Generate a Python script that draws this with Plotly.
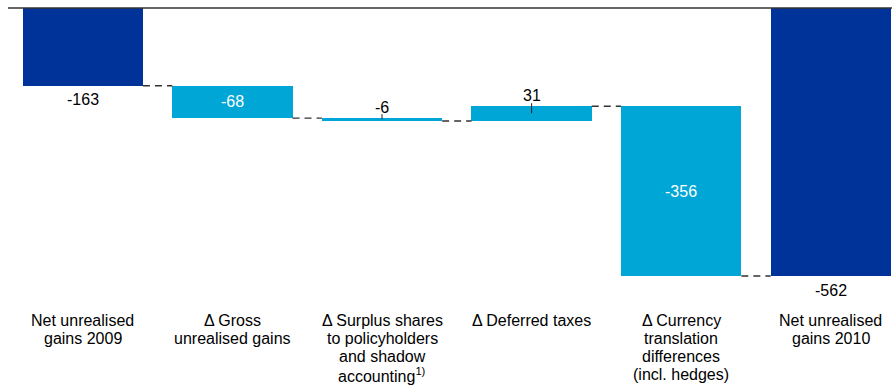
import plotly.graph_objects as go

categories = [
    "Net unrealised<br>gains 2009",
    "\u0394 Gross<br>unrealised gains",
    "\u0394 Surplus shares<br>to policyholders<br>and shadow<br>accounting<sup>1)</sup>",
    "\u0394 Deferred taxes",
    "\u0394 Currency<br>translation<br>differences<br>(incl. hedges)",
    "Net unrealised<br>gains 2010",
]
values = [-163, -68, -6, 31, -356, -562]
kinds = ["total", "delta", "delta", "delta", "delta", "total"]

DARK = "#003399"
LIGHT = "#00A6D6"
FONT = "Arial, Liberation Sans, sans-serif"

# label placement (style): where each value label sits
label_place = ["below", "inside", "above", "above", "inside", "below"]
label_tick = [False, False, True, True, False, False]

bases, colors = [], []
running = 0
for v, k in zip(values, kinds):
    if k == "total":
        bases.append(0)
        running = v
        colors.append(DARK)
    else:
        bases.append(running)
        running += v
        colors.append(LIGHT)

x = list(range(len(values)))
W = 0.804

fig = go.Figure(go.Bar(
    x=x, y=values, base=bases, width=W,
    marker=dict(color=colors, line=dict(width=0)),
    hoverinfo="skip",
))

shapes = []
annotations = []

# top baseline (value 0 at the top edge of the plot)
shapes.append(dict(type="line", xref="paper", x0=0, x1=1, yref="paper", y0=1, y1=1,
                   line=dict(color="#333333", width=1.5), layer="above"))

# connectors
for i in range(len(values) - 1):
    end = bases[i] + values[i]
    shapes.append(dict(type="line", xref="x", yref="y",
                       x0=i + W / 2, x1=i + 1 - W / 2, y0=end, y1=end,
                       line=dict(color="#333333", width=1.3, dash="7px,5px")))

for i, (v, b) in enumerate(zip(values, bases)):
    lo, hi = min(b, b + v), max(b, b + v)
    place = label_place[i]
    if place == "inside":
        annotations.append(dict(x=i, y=(lo + hi) / 2, xref="x", yref="y", text=str(v),
                                showarrow=False, yanchor="middle",
                                font=dict(family=FONT, size=16, color="white")))
    elif place == "below":
        annotations.append(dict(x=i, y=lo, xref="x", yref="y", text=str(v),
                                showarrow=False, yanchor="middle", yshift=-14,
                                font=dict(family=FONT, size=16, color="black")))
    else:
        annotations.append(dict(x=i, y=hi, xref="x", yref="y", text=str(v),
                                showarrow=False, yanchor="middle", yshift=11,
                                font=dict(family=FONT, size=16, color="black")))
    if label_tick[i]:
        shapes.append(dict(type="line", xref="x", yref="y", ysizemode="pixel",
                           yanchor=hi, x0=i, x1=i, y0=-7 if v > 0 else -1, y1=3 if v > 0 else 4,
                           line=dict(color="#222222", width=1), layer="above"))

# category labels, one annotation per line for tight spacing
for i, cat in enumerate(categories):
    for k, line in enumerate(cat.split("<br>")):
        annotations.append(dict(x=i, y=1, xref="x", yref="paper", text=line,
                                showarrow=False, yanchor="middle",
                                yshift=-(320.5 - 8) - 18 * k,
                                font=dict(family=FONT, size=16, color="black")))

PX_PER_UNIT = 268 / 562
plot_h = 387 - 8
fig.update_layout(
    width=892, height=387,
    margin=dict(l=8, r=0, t=8, b=0),
    paper_bgcolor="white", plot_bgcolor="white",
    showlegend=False,
    xaxis=dict(visible=False, range=[-0.5, -0.5 + 884 / 149.6]),
    yaxis=dict(visible=False, range=[-plot_h / PX_PER_UNIT, 0]),
    shapes=shapes,
    annotations=annotations,
    bargap=0,
)

fig.write_html("out.html")
